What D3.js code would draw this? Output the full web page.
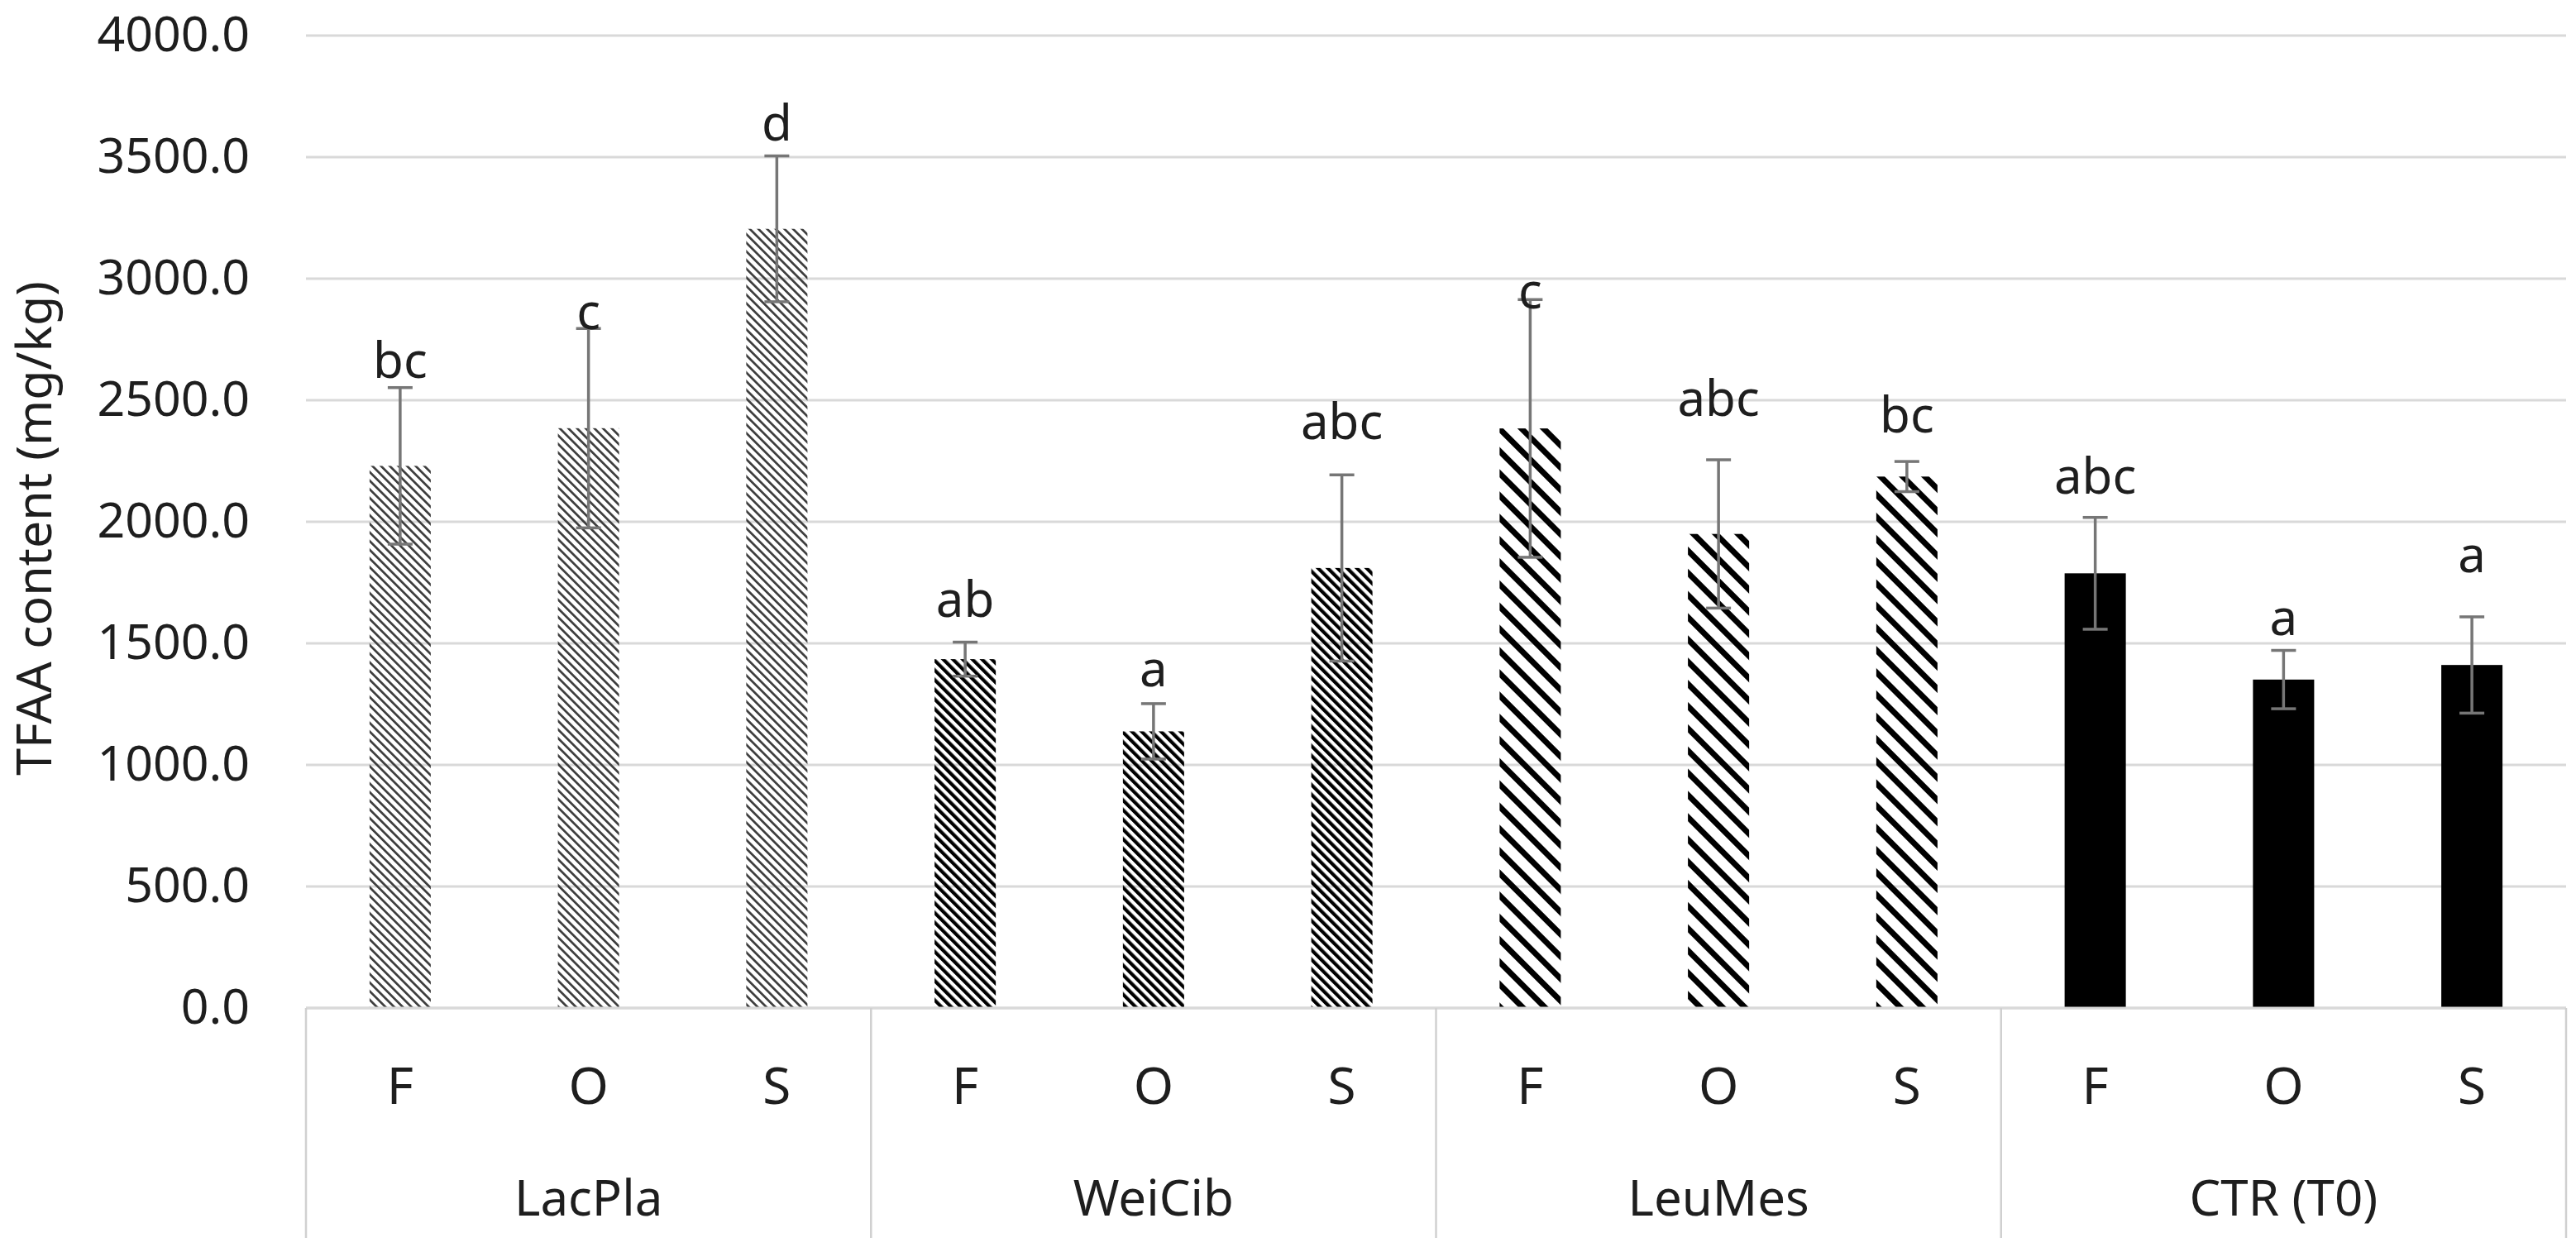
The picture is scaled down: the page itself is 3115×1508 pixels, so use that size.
<!DOCTYPE html>
<html>
<head>
<meta charset="utf-8">
<script src="https://cdn.jsdelivr.net/npm/d3@7"></script>
<style>
  html, body { margin: 0; padding: 0; background: #ffffff; }
  svg { display: block; }
  text { font-family: "Noto Sans", "Open Sans", sans-serif; fill: #1e1e1e; }
</style>
</head>
<body>
<svg id="chart" width="3115" height="1508"></svg>
<script>
// ---------------- data ----------------
const groups = ["LacPla", "WeiCib", "LeuMes", "CTR (T0)"];
const treatments = ["F", "O", "S"];
const means = [2230, 2385, 3205, 1435, 1138, 1810, 2384, 1950, 2186, 1788, 1351, 1411];
const sds   = [322, 410, 300, 70, 114, 383, 530, 305, 62, 230, 120, 198];
const letters = ["bc", "c", "d", "ab", "a", "abc", "c", "abc", "bc", "abc", "a", "a"];
const letterAt = [2592, 2792, 3568, 1609, 1324, 2340, 2878, 2436, 2366, 2115, 1533, 1793];
const yTicks = [0, 500, 1000, 1500, 2000, 2500, 3000, 3500, 4000];
const yTitle = "TFAA content (mg/kg)";

(function () {
// ---------------- layout ----------------
const mLeft = 370, mRight = 3103, mTop = 43, mBottom = 1219;
const svg = d3.select("#chart");

const rows = [];
groups.forEach((g, gi) => treatments.forEach((t, ti) => {
  const i = gi * treatments.length + ti;
  rows.push({ key: g + "|" + t, group: g, gi, t, mean: means[i], sd: sds[i], letter: letters[i], la: letterAt[i] });
}));

const pIn = 0.675;
const x = d3.scaleBand().domain(rows.map(d => d.key)).range([mLeft, mRight]).paddingInner(pIn).paddingOuter(pIn / 2);
const xg = d3.scaleBand().domain(groups).range([mLeft, mRight]).padding(0);
const y = d3.scaleLinear().domain([0, 4000]).range([mBottom, mTop]);

// ---------------- patterns ----------------
const defs = svg.append("defs");
function stripe(id, w, lw, color) {
  const p = defs.append("pattern").attr("id", id)
    .attr("patternUnits", "userSpaceOnUse")
    .attr("width", w).attr("height", w)
    .attr("patternTransform", "rotate(-45)");
  p.append("rect").attr("x", 0).attr("y", 0).attr("width", lw).attr("height", w).attr("fill", color);
}
stripe("pLac", 7.4, 2.7, "#3c3c3c");
stripe("pWei", 8.3, 4.2, "#000000");
stripe("pLeu", 19, 7, "#000000");
const fills = ["url(#pLac)", "url(#pWei)", "url(#pLeu)", "#000000"];

// ---------------- grid ----------------
svg.append("g").selectAll("line").data(yTicks).join("line")
  .attr("x1", mLeft).attr("x2", mRight)
  .attr("y1", d => y(d)).attr("y2", d => y(d))
  .attr("stroke", "#d9d9d9").attr("stroke-width", 3);

// ---------------- y axis ----------------
const yAxis = d3.axisLeft(y).tickValues(yTicks).tickFormat(d3.format(".1f")).tickSize(0).tickPadding(68);
const ya = svg.append("g").attr("transform", `translate(${mLeft},0)`).call(yAxis);
ya.select(".domain").remove();
ya.selectAll("text").attr("font-size", 59).attr("fill", "#1e1e1e")
  .style("font-family", '"Noto Sans", "Open Sans", sans-serif');

svg.append("text")
  .attr("transform", `translate(62,${(mTop + mBottom) / 2 + 8}) rotate(-90)`)
  .attr("text-anchor", "middle")
  .attr("font-size", 59)
  .text(yTitle);

// ---------------- bars ----------------
svg.append("g").selectAll("rect").data(rows).join("rect")
  .attr("x", d => x(d.key)).attr("width", x.bandwidth())
  .attr("y", d => y(d.mean)).attr("height", d => y(0) - y(d.mean))
  .attr("fill", d => fills[d.gi]);

// ---------------- error bars ----------------
const eb = svg.append("g").attr("stroke", "#767676").attr("stroke-width", 3.5);
const cap = 15;
rows.forEach(d => {
  const cx = x(d.key) + x.bandwidth() / 2;
  eb.append("line").attr("x1", cx).attr("x2", cx).attr("y1", y(d.mean + d.sd)).attr("y2", y(d.mean - d.sd));
  eb.append("line").attr("x1", cx - cap).attr("x2", cx + cap).attr("y1", y(d.mean + d.sd)).attr("y2", y(d.mean + d.sd));
  eb.append("line").attr("x1", cx - cap).attr("x2", cx + cap).attr("y1", y(d.mean - d.sd)).attr("y2", y(d.mean - d.sd));
});

// ---------------- letters ----------------
svg.append("g").selectAll("text").data(rows).join("text")
  .attr("x", d => x(d.key) + x.bandwidth() / 2)
  .attr("y", d => y(d.la))
  .attr("text-anchor", "middle")
  .attr("font-size", 60)
  .text(d => d.letter);

// ---------------- category axis ----------------
const ax = svg.append("g").attr("stroke", "#d0d0d0").attr("stroke-width", 2.5);
ax.append("line").attr("x1", mLeft).attr("x2", mRight).attr("y1", mBottom).attr("y2", mBottom).attr("stroke", "#d9d9d9").attr("stroke-width", 3);
const seps = groups.map(g => xg(g)).concat([mRight]);
ax.selectAll("line.sep").data(seps).join("line").attr("class", "sep")
  .attr("x1", d => d).attr("x2", d => d).attr("y1", mBottom).attr("y2", 1497);

svg.append("g").selectAll("text").data(rows).join("text")
  .attr("x", d => x(d.key) + x.bandwidth() / 2)
  .attr("y", 1335)
  .attr("text-anchor", "middle")
  .attr("font-size", 62)
  .text(d => d.t);

svg.append("g").selectAll("text").data(groups).join("text")
  .attr("x", d => xg(d) + xg.bandwidth() / 2)
  .attr("y", 1470)
  .attr("text-anchor", "middle")
  .attr("font-size", 60)
  .text(d => d);
})();
</script>
</body>
</html>
